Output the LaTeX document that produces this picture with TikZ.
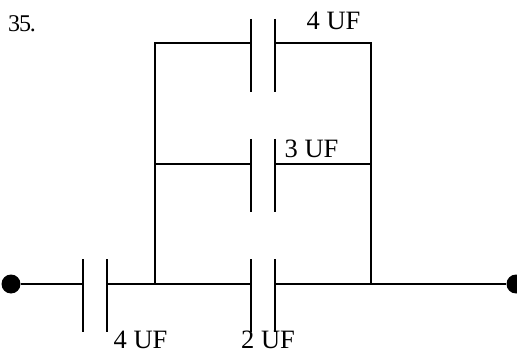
\documentclass[tikz,border=0pt]{standalone}
\usepackage{fontspec}
\setmainfont{Liberation Serif}
\begin{document}
\begin{tikzpicture}[x=1pt,y=-1pt,
  wire/.style={line width=1.8pt,black},
  terminal/.style={circle,fill=black,draw=none,inner sep=0pt,minimum size=19pt},
  lbl/.style={inner sep=0pt,anchor=base west,font=\fontsize{26.5}{26.5}\selectfont}]
\useasboundingbox (0,0) rectangle (517,350);
\clip (0,0) rectangle (517,350);
\node[terminal] (L) at (11,284) {};
\node[terminal] (R) at (516,284) {};
% series capacitor
\coordinate (s1) at (83,284); \coordinate (s2) at (107,284);
\coordinate (J1) at (155,284); \coordinate (J2) at (371,284);
% bottom capacitor
\coordinate (b1) at (251,284); \coordinate (b2) at (275,284);
% middle capacitor
\coordinate (m0) at (155,164); \coordinate (m1) at (251,164); \coordinate (m2) at (275,164); \coordinate (m3) at (371,164);
% top capacitor
\coordinate (t0) at (155,43); \coordinate (t1) at (251,43); \coordinate (t2) at (275,43); \coordinate (t3) at (371,43);
\draw[wire] (L) -- (s1);
\draw[wire] (s2) -- (b1);
\draw[wire] (b2) -- (R);
\draw[wire] (J1) -- (t0) -- (t1);
\draw[wire] (J2) -- (t3) -- (t2);
\draw[wire] (m0) -- (m1);
\draw[wire] (m2) -- (m3);
\foreach \c in {s1,s2,b1,b2}{\draw[wire] (\c) ++(0,-25) -- ++(0,73);}
\foreach \c in {m1,m2}{\draw[wire] (\c) ++(0,-25) -- ++(0,73);}
\foreach \c in {t1,t2}{\draw[wire] (\c) ++(0,-24) -- ++(0,73);}
\node[lbl,font=\fontsize{24}{24}\selectfont] (n35) at (8,32) {\addfontfeature{LetterSpace=-5}35.};
\node[lbl] (c1) at (306.5,30) {4 UF};
\node[lbl] (c2) at (284.5,158) {3 UF};
\node[lbl] (c3) at (113.5,348) {4 UF};
\node[lbl] (c4) at (241,348) {2 UF};
\end{tikzpicture}
\end{document}
